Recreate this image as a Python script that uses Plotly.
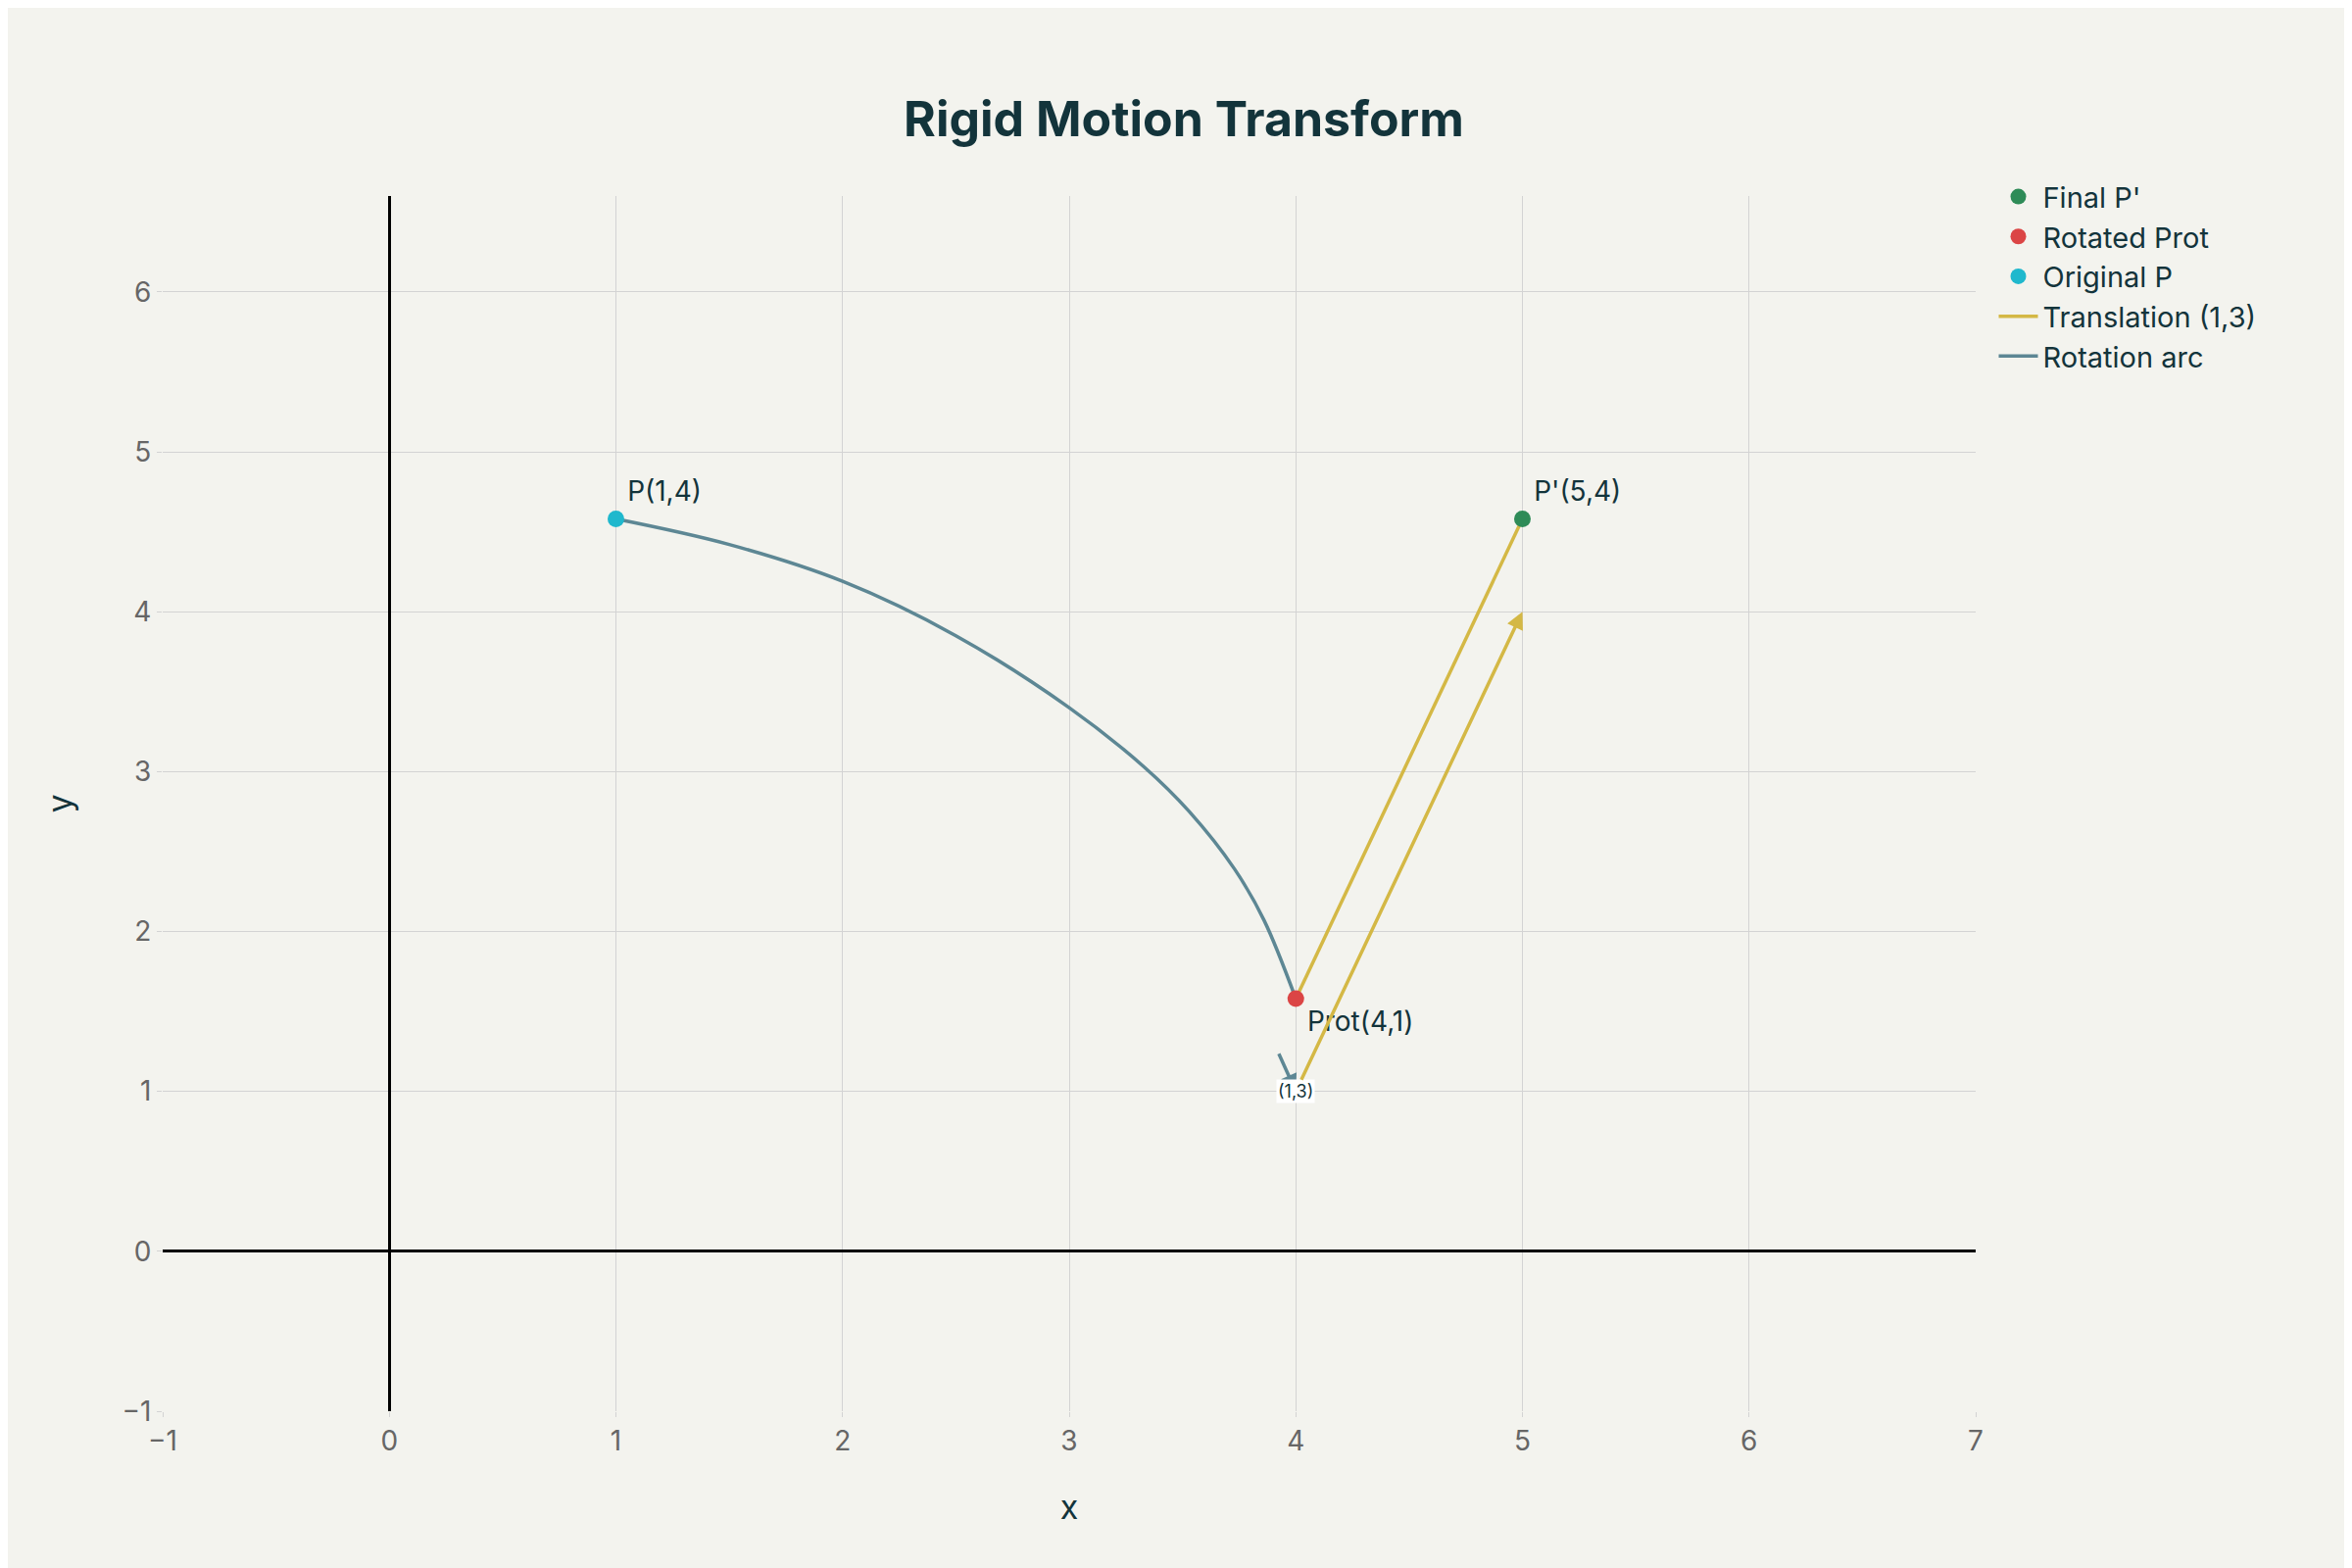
import plotly.graph_objects as go

# === Data ===
p_orig = (1, 4.58)
p_rot = (4, 1.58)
p_final = (5, 4.58)

arc_x = [1, 1.5, 2, 2.5, 3, 3.33, 3.53, 3.73, 3.86, 4]
arc_y = [4.58, 4.42, 4.19, 3.85, 3.40, 3.03, 2.75, 2.39, 2.07, 1.58]

trans_x = [4, 5]
trans_y = [1.58, 4.58]

teal = "#5d8794"
gold = "#d4b845"
dark = "#13343b"

fig = go.Figure()

fig.add_trace(go.Scatter(x=[p_orig[0]], y=[p_orig[1]], mode="markers+text", name="Original P",
                         marker=dict(color="#1fb8cd", size=17), text=["P(1,4)"],
                         textposition="top right", textfont=dict(size=28, color=dark)))
fig.add_trace(go.Scatter(x=[p_rot[0]], y=[p_rot[1]], mode="markers+text", name="Rotated Prot",
                         marker=dict(color="#db4545", size=17), text=["Prot(4,1)"],
                         textposition="bottom right", textfont=dict(size=28, color=dark)))
fig.add_trace(go.Scatter(x=[p_final[0]], y=[p_final[1]], mode="markers+text", name="Final P'",
                         marker=dict(color="#2e8b57", size=17), text=["P'(5,4)"],
                         textposition="top right", textfont=dict(size=28, color=dark)))
fig.add_trace(go.Scatter(x=arc_x, y=arc_y, mode="lines", name="Rotation arc",
                         line=dict(color=teal, width=3.5, shape="spline")))
fig.add_trace(go.Scatter(x=trans_x, y=trans_y, mode="lines", name="Translation (1,3)",
                         line=dict(color=gold, width=3.5)))

# keep markers drawn above lines
fig.data = (fig.data[3], fig.data[4], fig.data[0], fig.data[1], fig.data[2])

fig.add_annotation(x=4, y=1, ax=-18, ay=-40, text="", showarrow=True,
                   arrowhead=2, arrowcolor=teal, arrowwidth=3.5)
fig.add_annotation(x=5, y=4, ax=4, ay=1, axref="x", ayref="y", text="(1,3)",
                   showarrow=True, arrowhead=2, arrowcolor=gold, arrowwidth=3.5,
                   bgcolor="white", font=dict(size=18, color=dark))

fig.update_layout(
    title=dict(text="<b>Rigid Motion Transform</b>", x=0.5, y=0.94,
               font=dict(size=50, color=dark)),
    font=dict(family="Inter, sans-serif", size=28, color=dark),
    paper_bgcolor="#f3f3ee",
    plot_bgcolor="#f3f3ee",
    width=2400, height=1600,
    margin=dict(l=158, r=392, t=192, b=168),
    legend=dict(x=1.01, y=1.02, xanchor="left", yanchor="top", font=dict(size=29),
                traceorder="reversed", itemwidth=40),
)
fig.update_xaxes(range=[-1, 7], dtick=1, title=dict(text="x", standoff=40),
                 showgrid=True, gridcolor="#d3d3d3",
                 zeroline=True, zerolinecolor="black", zerolinewidth=3,
                 ticks="outside", tickcolor="#d3d3d3", tickfont=dict(size=28, color="#666"))
fig.update_yaxes(range=[-1, 6.6], dtick=1, title=dict(text="y", standoff=40),
                 showgrid=True, gridcolor="#d3d3d3",
                 zeroline=True, zerolinecolor="black", zerolinewidth=3,
                 ticks="outside", tickcolor="#d3d3d3", tickfont=dict(size=28, color="#666"))

fig.write_html("out.html")
